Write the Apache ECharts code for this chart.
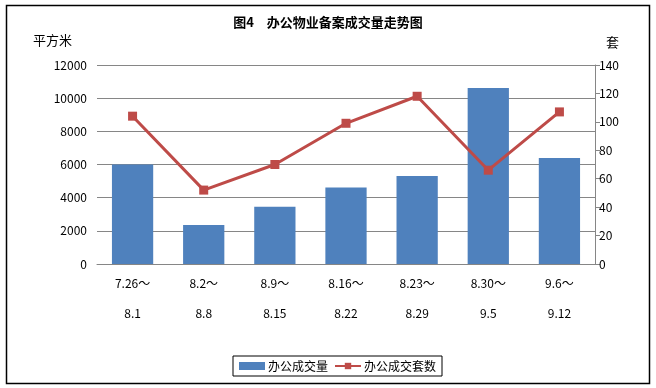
<!DOCTYPE html>
<html>
<head>
<meta charset="utf-8">
<script src="https://cdn.jsdelivr.net/npm/echarts@6/dist/echarts.min.js"></script>
<style>
html,body{margin:0;padding:0;background:#fff;}
#main{width:656px;height:388px;}
</style>
</head>
<body>
<div id="main"></div>
<script>
var categories = ['7.26～\n8.1', '8.2～\n8.8', '8.9～\n8.15', '8.16～\n8.22', '8.23～\n8.29', '8.30～\n9.5', '9.6～\n9.12'];
var areaValues = [6000, 2350, 3450, 4620, 5300, 10610, 6390];
var unitValues = [104, 52, 70, 99, 118, 66, 107];
var leftTicks = {min: 0, max: 12000, interval: 2000};
var rightTicks = {min: 0, max: 140, interval: 20};

var font = '"Noto Sans CJK SC", "DejaVu Sans", sans-serif';
var chart = echarts.init(document.getElementById('main'));
chart.setOption({
  animation: false,
  backgroundColor: '#fff',
  textStyle: {fontFamily: font},
  title: {
    text: '图4　办公物业备案成交量走势图',
    left: 'center',
    top: 11,
    textStyle: {fontSize: 13, fontWeight: 'bold', color: '#000', fontFamily: font}
  },
  graphic: [
    {type: 'rect', shape: {x: 6.5, y: 5.5, width: 643, height: 378}, style: {fill: 'none', stroke: '#000', lineWidth: 1.5}, silent: true},
    {type: 'text', left: 33, top: 34, style: {text: '平方米', fontSize: 13, fill: '#000', fontFamily: font}},
    {type: 'text', left: 606, top: 36, style: {text: '套', fontSize: 13, fill: '#000', fontFamily: font}}
  ],
  legend: {
    left: 233,
    top: 356,
    padding: [4, 6],
    itemGap: 6,
    itemWidth: 26,
    itemHeight: 8,
    borderColor: '#000',
    borderWidth: 1,
    textStyle: {fontSize: 12, color: '#000', fontFamily: font, padding: [0, 0, 0, -2]},
    data: [
      {name: '办公成交量', icon: 'rect'},
      {name: '办公成交套数'}
    ]
  },
  grid: {left: 97, right: 61, top: 65, bottom: 124, containLabel: false},
  xAxis: {
    type: 'category',
    data: categories,
    axisLine: {show: true, lineStyle: {color: '#868686', width: 1}},
    axisTick: {show: false},
    axisLabel: {fontSize: 12, color: '#000', lineHeight: 30, margin: 4, fontFamily: font, interval: 0}
  },
  yAxis: [
    {
      type: 'value',
      min: leftTicks.min, max: leftTicks.max, interval: leftTicks.interval,
      axisLine: {show: false},
      axisTick: {show: false},
      splitLine: {show: true, lineStyle: {color: '#868686', width: 1}},
      axisLabel: {fontSize: 12, color: '#000', margin: 10, fontFamily: font, formatter: function (v) { return String(v); }}
    },
    {
      type: 'value',
      min: rightTicks.min, max: rightTicks.max, interval: rightTicks.interval,
      position: 'right',
      axisLine: {show: true, lineStyle: {color: '#868686', width: 1}},
      axisTick: {show: true, length: 5, lineStyle: {color: '#868686'}},
      splitLine: {show: false},
      axisLabel: {fontSize: 12, color: '#000', margin: 4, fontFamily: font}
    }
  ],
  series: [
    {
      name: '办公成交量',
      type: 'bar',
      yAxisIndex: 0,
      data: areaValues,
      barWidth: '58%',
      itemStyle: {color: '#4F81BD'}
    },
    {
      name: '办公成交套数',
      type: 'line',
      yAxisIndex: 1,
      data: unitValues,
      symbol: 'rect',
      symbolSize: 9,
      lineStyle: {color: '#BE4B48', width: 3},
      itemStyle: {color: '#BE4B48'}
    }
  ]
});
</script>
</body>
</html>
